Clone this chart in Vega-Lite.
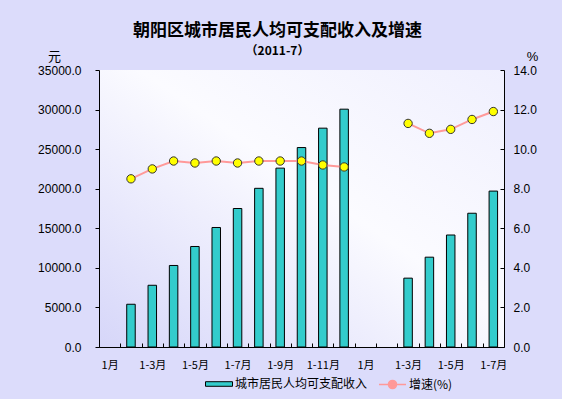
{
  "$schema": "https://vega.github.io/schema/vega-lite/v6.json",
  "width": 405,
  "height": 277,
  "autosize": {"type": "none"},
  "padding": {"left": 99, "top": 70, "right": 58, "bottom": 52},
  "background": "#dcdcfb",
  "title": {
    "text": "朝阳区城市居民人均可支配收入及增速",
    "subtitle": "（2011-7）",
    "anchor": "middle",
    "frame": "group",
    "dx": -24,
    "offset": -8,
    "font": "Noto Sans CJK SC",
    "fontSize": 17,
    "fontWeight": "bold",
    "color": "#000000",
    "subtitleFont": "Noto Sans CJK SC",
    "subtitleFontSize": 12,
    "subtitleFontWeight": "bold",
    "subtitleColor": "#000000",
    "subtitlePadding": 6
  },
  "config": {
    "view": {
      "stroke": null,
      "fill": {
        "gradient": "linear",
        "x1": 0, "y1": 1, "x2": 1, "y2": 0,
        "stops": [
          {"offset": 0, "color": "#d6d6f9"},
          {"offset": 0.55, "color": "#fbfbff"},
          {"offset": 1, "color": "#f0f0fe"}
        ]
      }
    },
    "axis": {"grid": false, "domainColor": "#000000", "tickColor": "#000000", "labelColor": "#000000", "titleColor": "#000000"},
    "legend": {"labelFont": "Noto Sans CJK SC", "labelFontSize": 12, "labelColor": "#000000", "title": null, "padding": 0}
  },
  "data": {
    "values": [
      {"m": "10-01", "year": "2010", "income": null, "growth": null},
      {"m": "10-02", "year": "2010", "income": 5400, "growth": 8.5},
      {"m": "10-03", "year": "2010", "income": 7800, "growth": 9.0},
      {"m": "10-04", "year": "2010", "income": 10300, "growth": 9.4},
      {"m": "10-05", "year": "2010", "income": 12700, "growth": 9.3},
      {"m": "10-06", "year": "2010", "income": 15100, "growth": 9.4},
      {"m": "10-07", "year": "2010", "income": 17500, "growth": 9.3},
      {"m": "10-08", "year": "2010", "income": 20050, "growth": 9.4},
      {"m": "10-09", "year": "2010", "income": 22600, "growth": 9.4},
      {"m": "10-10", "year": "2010", "income": 25200, "growth": 9.4},
      {"m": "10-11", "year": "2010", "income": 27650, "growth": 9.2},
      {"m": "10-12", "year": "2010", "income": 30050, "growth": 9.1},
      {"m": "11-01", "year": "2011", "income": null, "growth": null},
      {"m": "11-02", "year": "2011", "income": null, "growth": null},
      {"m": "11-03", "year": "2011", "income": 8700, "growth": 11.3},
      {"m": "11-04", "year": "2011", "income": 11350, "growth": 10.8},
      {"m": "11-05", "year": "2011", "income": 14150, "growth": 11.0},
      {"m": "11-06", "year": "2011", "income": 16900, "growth": 11.5},
      {"m": "11-07", "year": "2011", "income": 19700, "growth": 11.9}
    ]
  },
  "layer": [
    {
      "mark": {"type": "bar", "width": 8.5, "stroke": "#000000", "strokeWidth": 1},
      "encoding": {
        "x": {
          "field": "m",
          "type": "ordinal",
          "scale": {
            "domain": ["10-01","10-02","10-03","10-04","10-05","10-06","10-07","10-08","10-09","10-10","10-11","10-12","11-01","11-02","11-03","11-04","11-05","11-06","11-07"],
            "paddingInner": 0,
            "paddingOuter": 0
          },
          "axis": {
            "title": null,
            "labelAngle": 0,
            "tickOffset": -10.66,
            "labelOffset": 10.66,
            "tickSize": -4,
            "labelPadding": 16,
            "labelFont": "Noto Sans CJK SC",
            "labelFontSize": 11,
            "labelExpr": "toNumber(slice(datum.value,3)) % 2 == 1 ? (toNumber(slice(datum.value,3)) == 1 ? '1月' : '1-' + toNumber(slice(datum.value,3)) + '月') : ''"
          }
        },
        "y": {
          "field": "income",
          "type": "quantitative",
          "scale": {"domain": [0, 35000]},
          "axis": {
            "title": "元",
            "titleAngle": 0,
            "titleX": -45,
            "titleY": -14,
            "titleAlign": "center",
            "titleBaseline": "middle",
            "titleFont": "Noto Sans CJK SC",
            "titleFontSize": 13,
            "titleFontWeight": "normal",
            "values": [0, 5000, 10000, 15000, 20000, 25000, 30000, 35000],
            "format": ".1f",
            "tickSize": 4,
            "labelPadding": 14,
            "labelFont": "Liberation Sans",
            "labelFontSize": 12
          }
        },
        "color": {
          "datum": "城市居民人均可支配收入",
          "scale": {"range": ["#33cccc"]},
          "legend": {
            "orient": "none",
            "legendX": 106,
            "legendY": 300,
            "symbolType": "M-1,-0.17H1V0.17H-1Z",
            "symbolSize": 729,
            "symbolStrokeColor": "#000000",
            "symbolStrokeWidth": 1,
            "labelOffset": 2
          }
        }
      }
    },
    {
      "mark": {"type": "line", "strokeWidth": 2, "point": {"filled": true, "fill": "#ffff00", "stroke": "#333333", "strokeWidth": 1, "size": 70}},
      "encoding": {
        "x": {"field": "m", "type": "ordinal"},
        "y": {
          "field": "growth",
          "type": "quantitative",
          "scale": {"domain": [0, 14]},
          "axis": {
            "title": "%",
            "titleAngle": 0,
            "titleX": 28,
            "titleY": -14,
            "titleAlign": "center",
            "titleBaseline": "middle",
            "titleFont": "Liberation Sans",
            "titleFontSize": 13,
            "titleFontWeight": "normal",
            "values": [0, 2, 4, 6, 8, 10, 12, 14],
            "format": ".1f",
            "tickSize": -4,
            "labelPadding": 13,
            "labelFont": "Liberation Sans",
            "labelFontSize": 12
          }
        },
        "detail": {"field": "year"},
        "color": {
          "datum": "增速(%)",
          "scale": {"range": ["#ff9999"]},
          "legend": {
            "orient": "none",
            "legendX": 279,
            "legendY": 300,
            "symbolType": "M-1,0H1M0.3,0A0.3,0.3,0,1,1,-0.3,0A0.3,0.3,0,1,1,0.3,0",
            "symbolSize": 729,
            "symbolStrokeWidth": 1.5,
            "symbolFillColor": "#ffff00",
            "symbolOpacity": 1,
            "labelOffset": 2,
            "encode": {
              "symbols": {
                "enter": {
                  "fill": {"value": "#ffff00"},
                  "stroke": {"value": "#ff9999"},
                  "fillOpacity": {"value": 1}
                },
                "update": {
                  "fill": {"value": "#ffff00"},
                  "stroke": {"value": "#ff9999"},
                  "fillOpacity": {"value": 1}
                }
              }
            }
          }
        }
      }
    }
  ],
  "resolve": {"scale": {"y": "independent", "color": "independent"}}
}
